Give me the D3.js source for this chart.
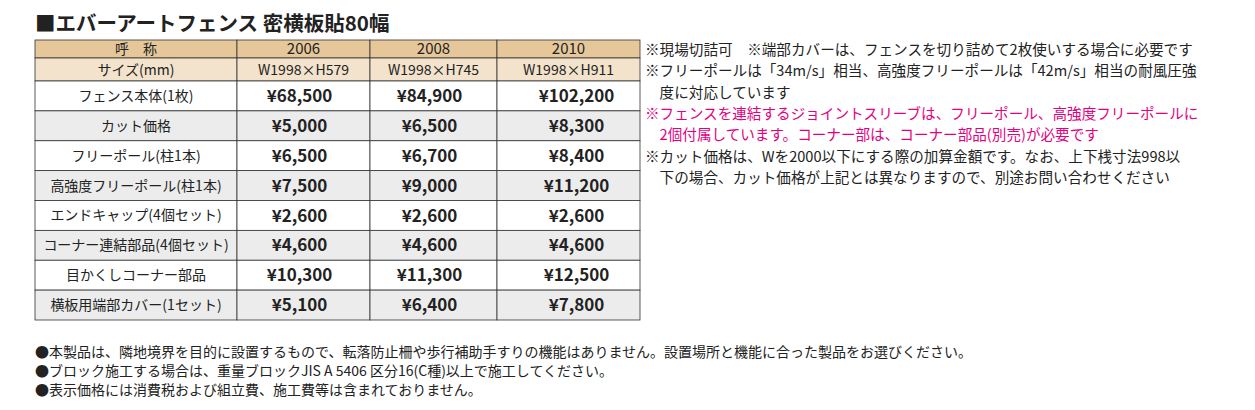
<!DOCTYPE html><html><head><meta charset="utf-8"><script src="https://cdn.jsdelivr.net/npm/d3@7"></script>
<style>body{margin:0;background:#fff}text{font-family:"Noto Sans CJK JP","Noto Sans",sans-serif}</style></head><body><svg id="c" width="1255" height="410"></svg>
<script>
const title="■エバーアートフェンス 密横板貼80幅";
const columns=["呼　称","2006","2008","2010"];
const sizes=["サイズ(mm)","W1998×H579","W1998×H745","W1998×H911"];
const items=["フェンス本体(1枚)","カット価格","フリーポール(柱1本)","高強度フリーポール(柱1本)","エンドキャップ(4個セット)","コーナー連結部品(4個セット)","目かくしコーナー部品","横板用端部カバー(1セット)"];
const p2006=[68500,5000,6500,7500,2600,4600,10300,5100];
const p2008=[84900,6500,6700,9000,2600,4600,11300,6400];
const p2010=[102200,8300,8400,11200,2600,4600,12500,7800];
const notes=[["※現場切詰可　※端部カバーは、フェンスを切り詰めて2枚使いする場合に必要です","#222"],["※フリーポールは「34m/s」相当、高強度フリーポールは「42m/s」相当の耐風圧強","#222"],["　度に対応しています","#222"],["※フェンスを連結するジョイントスリーブは、フリーポール、高強度フリーポールに","#e4007f"],["　2個付属しています。コーナー部は、コーナー部品(別売)が必要です","#e4007f"],["※カット価格は、Wを2000以下にする際の加算金額です。なお、上下桟寸法998以","#222"],["　下の場合、カット価格が上記とは異なりますので、別途お問い合わせください","#222"]];
const footer=["●本製品は、隣地境界を目的に設置するもので、転落防止柵や歩行補助手すりの機能はありません。設置場所と機能に合った製品をお選びください。","●ブロック施工する場合は、重量ブロックJIS A 5406 区分16(C種)以上で施工してください。","●表示価格には消費税および組立費、施工費等は含まれておりません。"];
const svg=d3.select("#c");
svg.append("text").attr("x",35).attr("y",31).attr("font-size",20.5).attr("font-weight","bold").attr("fill","#222").text(title);
const colX=d3.scaleOrdinal().domain([0,1,2,3,4]).range([35,237,370,497,640]);
const dy=d3.scaleLinear().domain([0,8]).range([81,320]);
const fmt=v=>"¥"+d3.format(",")(v);
const rows=[{cells:columns,bg:"#e6c79a",h:[40,58],bold:false},{cells:sizes,bg:"#f3e3cc",h:[58,81],bold:false}];
items.forEach((it,i)=>rows.push({cells:[it,fmt(p2006[i]),fmt(p2008[i]),fmt(p2010[i])],bg:i%2?"#ececec":"#fff",h:[dy(i),dy(i+1)],bold:true}));
rows.forEach((r,ri)=>{
  for(let c=0;c<4;c++){
    const x0=colX(c),x1=colX(c+1);
    svg.append("rect").attr("x",x0).attr("y",r.h[0]).attr("width",x1-x0).attr("height",r.h[1]-r.h[0]).attr("fill",r.bg).attr("stroke","#333").attr("stroke-width",0.8);
    const isPrice=r.bold&&c>0;
    const fs=isPrice?17:(ri===0&&c>0?15:14);
    svg.append("text").attr("x",(x0+x1)/2+(isPrice?(c===3?8:-4):0)).attr("y",(r.h[0]+r.h[1])/2+fs*0.36).attr("text-anchor","middle")
      .attr("font-size",fs).attr("font-weight",isPrice?"bold":"normal")
      .attr("font-family",isPrice?"'Liberation Sans',Arial,sans-serif":null).attr("fill","#222").text(r.cells[c]);
  }
});
notes.forEach((n,i)=>svg.append("text").attr("x",645).attr("y",55+i*21.3).attr("font-size",14.6).attr("fill",n[1]).text(n[0]));
footer.forEach((f,i)=>svg.append("text").attr("x",35).attr("y",357+i*19).attr("font-size",14).attr("fill","#222").text(f));
</script></body></html>
